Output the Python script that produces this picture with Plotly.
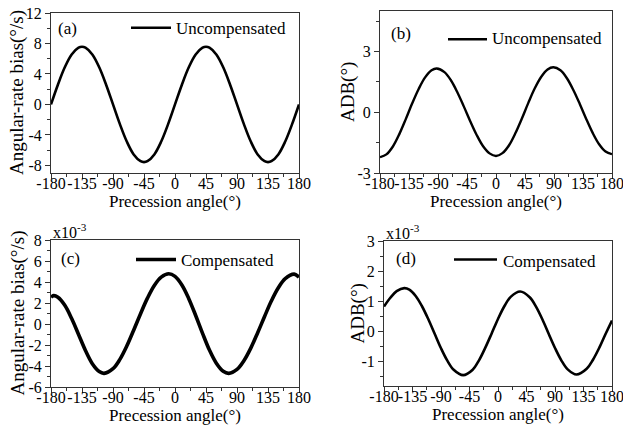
import plotly.graph_objects as go

# ---------------- data ----------------
ANGLE_A = [-180, -170, -160, -150, -140, -135, -130, -120, -110, -100, -90, -80, -70, -60, -50, -45, -40,
           -30, -20, -10, 0, 10, 20, 30, 40, 45, 50, 60, 70, 80, 90, 100, 110, 120, 130, 135, 140,
           150, 160, 170, 180]
BIAS_UNCOMP = [0.0, 2.59, 4.87, 6.56, 7.45, 7.57, 7.45, 6.56, 4.87, 2.59, 0.0, -2.59, -4.87, -6.56, -7.45, -7.57, -7.45,
               -6.56, -4.87, -2.59, 0.0, 2.59, 4.87, 6.56, 7.45, 7.57, 7.45, 6.56, 4.87, 2.59, 0.0, -2.59, -4.87, -6.56, -7.45, -7.57, -7.45,
               -6.56, -4.87, -2.59, 0.0]

ANGLE_B = [-180, -170, -160, -150, -140, -130, -120, -110, -100, -92, -80, -70, -60, -50, -40, -30, -20, -10, 0,
           10, 20, 30, 40, 50, 60, 70, 80, 89, 100, 110, 120, 130, 140, 150, 160, 170, 180]
ADB_UNCOMP = [-2.22, -2.08, -1.69, -1.08, -0.34, 0.44, 1.15, 1.72, 2.07, 2.16, 1.98, 1.58, 0.99, 0.29, -0.44, -1.12, -1.68, -2.03, -2.16,
              -2.02, -1.64, -1.04, -0.32, 0.45, 1.17, 1.74, 2.11, 2.22, 2.07, 1.68, 1.10, 0.41, -0.33, -1.02, -1.58, -1.94, -2.07]

ANGLE_C = [-180, -176, -170, -160, -150, -140, -130, -120, -110, -103, -90, -80, -70, -60, -50, -40, -30, -20, -9,
           0, 10, 20, 30, 40, 50, 60, 70, 78, 90, 100, 110, 120, 130, 140, 150, 160, 173, 180]
BIAS_COMP_E3 = [2.55, 2.70, 2.54, 1.78, 0.52, -1.00, -2.52, -3.78, -4.53, -4.70, -4.26, -3.37, -2.10, -0.59, 0.98, 2.46, 3.67, 4.46, 4.78,
                4.53, 3.71, 2.41, 0.81, -0.89, -2.48, -3.73, -4.50, -4.70, -4.33, -3.50, -2.30, -0.83, 0.72, 2.21, 3.45, 4.32, 4.75, 4.46]

ANGLE_D = [-180, -170, -160, -148, -140, -130, -120, -110, -100, -90, -80, -70, -55, -40, -30, -20, -10,
           0, 10, 20, 35, 50, 60, 70, 80, 90, 100, 110, 124, 140, 150, 160, 170, 180]
ADB_COMP_E3 = [0.83, 1.12, 1.34, 1.44, 1.39, 1.18, 0.84, 0.41, -0.07, -0.55, -0.96, -1.26, -1.44, -1.26, -0.95, -0.53, -0.06,
               0.42, 0.84, 1.15, 1.33, 1.14, 0.83, 0.41, -0.07, -0.54, -0.95, -1.25, -1.42, -1.23, -0.93, -0.53, -0.07, 0.37]

X_TICKS = [-180, -135, -90, -45, 0, 45, 90, 135, 180]
X_TICKTEXT = ["-180", "-135", "-90", "-45", "0", "45", "90", "135", "180"]

Y_TICKS_A = [-8, -4, 0, 4, 8, 12]
Y_TICKS_B = [-3, 0, 3]
Y_TICKS_C = [-6, -4, -2, 0, 2, 4, 6, 8]
Y_TICKS_D = [-1, 0, 1, 2, 3]

FONT = "Liberation Serif, Times New Roman, serif"
AXC = "#333333"
W, H = 623, 436

panels = [
    dict(n=1, x=ANGLE_A, y=BIAS_UNCOMP, px=(51, 299), py=(13, 173), yr=[-9, 12],
         yt=Y_TICKS_A, ym=2, lw=2.6, tag="(a)", leg="Uncompensated",
         ytitle="Angular-rate bias(°/s)", sci=False,
         tagpos=(67, 28.3), legline=(131, 171, 27.7), legtext=(174, 28.3), ytx=17),
    dict(n=2, x=ANGLE_B, y=ADB_UNCOMP, px=(380, 612), py=(11, 173), yr=[-3, 5],
         yt=Y_TICKS_B, ym=1.5, lw=2.4, tag="(b)", leg="Uncompensated",
         ytitle="ADB(°)", sci=False,
         tagpos=(401, 33.3), legline=(448, 487, 39.3), legtext=(490, 38.5), ytx=348),
    dict(n=3, x=ANGLE_C, y=BIAS_COMP_E3, px=(51, 299), py=(240, 387), yr=[-6, 8],
         yt=Y_TICKS_C, ym=1, lw=3.6, tag="(c)", leg="Compensated",
         ytitle="Angular-rate bias(°/s)", sci=True,
         tagpos=(70.5, 258), legline=(136, 176, 259.5), legtext=(179, 260.5), ytx=17),
    dict(n=4, x=ANGLE_D, y=ADB_COMP_E3, px=(384, 612), py=(241, 386), yr=[-1.8, 3],
         yt=Y_TICKS_D, ym=0.5, lw=2.6, tag="(d)", leg="Compensated",
         ytitle="ADB(°)", sci=True,
         tagpos=(406, 258), legline=(454, 497, 259.5), legtext=(501, 261), ytx=357),
]

fig = go.Figure()
layout = dict(width=W, height=H, margin=dict(l=0, r=0, t=0, b=0, autoexpand=False),
              paper_bgcolor="white", plot_bgcolor="white", showlegend=False,
              font=dict(family=FONT, size=16, color="black"))
shapes, annotations = [], []

for p in panels:
    n = p["n"]
    xs = "" if n == 1 else str(n)
    xid, yid = "x" + xs, "y" + xs
    fig.add_trace(go.Scatter(x=p["x"], y=p["y"], mode="lines", xaxis=xid, yaxis=yid,
                             line=dict(color="black", width=p["lw"], shape="spline", smoothing=1.0),
                             name=p["leg"]))
    xd = [p["px"][0] / W, p["px"][1] / W]
    yd = [1 - p["py"][1] / H, 1 - p["py"][0] / H]
    pw = p["px"][1] - p["px"][0]
    ph = p["py"][1] - p["py"][0]

    layout["xaxis" + xs] = dict(domain=xd, anchor=yid, range=[-180, 180], automargin=False,
                                tickmode="array", tickvals=X_TICKS, ticktext=X_TICKTEXT,
                                tickangle=0, ticklabelstandoff=-9, ticklabeloverflow="allow",
                                ticks="outside", ticklen=5, tickwidth=1, tickcolor=AXC,
                                minor=dict(tickmode="linear", tick0=-180, dtick=22.5,
                                           ticks="outside", ticklen=3, tickwidth=1, tickcolor=AXC),
                                showline=True, linecolor=AXC, linewidth=1, mirror=True,
                                showgrid=False, zeroline=False,
                                tickfont=dict(family=FONT, size=16, color="black"))
    layout["yaxis" + xs] = dict(domain=yd, anchor=xid, range=p["yr"], automargin=False,
                                tickmode="array", tickvals=p["yt"],
                                ticktext=["%g" % v for v in p["yt"]],
                                ticklabeloverflow="allow",
                                ticks="outside", ticklen=5, tickwidth=1, tickcolor=AXC,
                                minor=dict(tickmode="linear", tick0=0, dtick=p["ym"],
                                           ticks="outside", ticklen=3, tickwidth=1, tickcolor=AXC),
                                showline=True, linecolor=AXC, linewidth=1, mirror=True,
                                showgrid=False, zeroline=False,
                                tickfont=dict(family=FONT, size=16, color="black"))
    # inward ticks on top / right (Origin style)
    k = str(n + 4)
    layout["xaxis" + k] = dict(overlaying=xid, anchor=yid, side="top", range=[-180, 180],
                               automargin=False,
                               tickmode="array", tickvals=X_TICKS, showticklabels=False,
                               ticks="inside", ticklen=5, tickwidth=1, tickcolor=AXC,
                               minor=dict(tickmode="linear", tick0=-180, dtick=22.5,
                                          ticks="inside", ticklen=3, tickwidth=1, tickcolor=AXC),
                               showline=False, showgrid=False, zeroline=False)
    layout["yaxis" + k] = dict(overlaying=yid, anchor=xid, side="right", range=p["yr"],
                               automargin=False,
                               tickmode="array", tickvals=p["yt"], showticklabels=False,
                               ticks="inside", ticklen=5, tickwidth=1, tickcolor=AXC,
                               minor=dict(tickmode="linear", tick0=0, dtick=p["ym"],
                                          ticks="inside", ticklen=3, tickwidth=1, tickcolor=AXC),
                               showline=False, showgrid=False, zeroline=False)

    def dx(px):
        return (px - p["px"][0]) / pw

    def dy(py):
        return 1 - (py - p["py"][0]) / ph

    xr, yr_ = xid + " domain", yid + " domain"
    # legend sample line
    ll = p["legline"]
    shapes.append(dict(type="line", xref=xr, yref=yr_, x0=dx(ll[0]), x1=dx(ll[1]),
                       y0=dy(ll[2]), y1=dy(ll[2]),
                       line=dict(color="black", width=p["lw"])))
    annotations.append(dict(text=p["leg"], xref=xr, yref=yr_, x=dx(p["legtext"][0]),
                            y=dy(p["legtext"][1]), xanchor="left", yanchor="middle",
                            showarrow=False, font=dict(family=FONT, size=17, color="black")))
    annotations.append(dict(text=p["tag"], xref=xr, yref=yr_, x=dx(p["tagpos"][0]),
                            y=dy(p["tagpos"][1]), xanchor="center", yanchor="middle",
                            showarrow=False, font=dict(family=FONT, size=17, color="black")))
    # axis titles
    annotations.append(dict(text="Precession angle(°)", xref=xr, yref=yr_, x=0.5,
                            y=dy(p["py"][1] + 28), xanchor="center", yanchor="middle",
                            showarrow=False, font=dict(family=FONT, size=17, color="black")))
    annotations.append(dict(text=p["ytitle"], xref=xr, yref=yr_, x=dx(p["ytx"]),
                            y=0.5, xanchor="center", yanchor="middle", textangle=-90,
                            showarrow=False, font=dict(family=FONT, size=19, color="black")))
    if p["sci"]:
        annotations.append(dict(text="x10<sup>-3</sup>", xref=xr, yref=yr_, x=0,
                                y=dy(p["py"][0] - 9), xanchor="left", yanchor="middle",
                                showarrow=False, font=dict(family=FONT, size=16, color="black")))

layout["shapes"] = shapes
layout["annotations"] = annotations
fig.update_layout(**layout)
fig.write_html("out.html")
